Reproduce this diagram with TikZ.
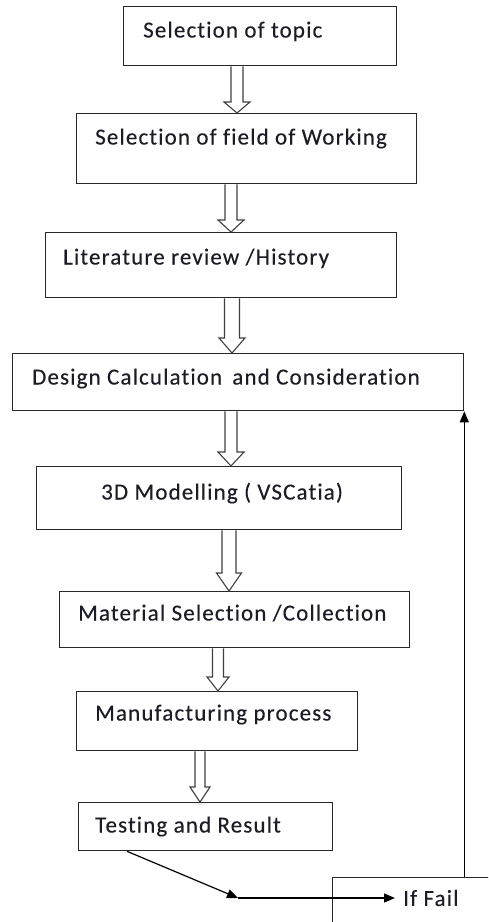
\documentclass[tikz,border=0pt]{standalone}
\usepackage{fontspec}
\setmainfont{Carlito}[LetterSpace=5, Ligatures=CommonOff, FakeBold=0.2]
\usetikzlibrary{calc,arrows.meta}

\definecolor{inkline}{RGB}{40,40,40}
\definecolor{inktext}{RGB}{28,28,38}

\tikzset{
  stagebox/.style={draw=inkline, line width=1.3pt, rectangle, inner sep=0pt,
    anchor=north west, fill=white},
  stagetext/.style={anchor=base west, inner sep=0pt, text=inktext,
    font=\fontsize{23}{27}\selectfont},
  hollow/.style={draw=black!75, line width=1.1pt, line join=miter},
  conn/.style={draw=black, line width=1.2pt},
  tip/.style={-{Triangle[length=11pt,width=9pt]}}
}

% hollow block arrow: centre x, upper node, lower node, half shaft, half head, head length
\newcommand\hollowarrow[6]{%
  \draw[hollow] let \p1=(#1,0 |- #2.south), \p2=(#1,0 |- #3.north) in
    (\x1-#4pt,\y1) -- (\x1-#4pt,\y2+#6pt) -- (\x1-#5pt,\y2+#6pt) -- (\x1,\y2)
    -- (\x1+#5pt,\y2+#6pt) -- (\x1+#4pt,\y2+#6pt) -- (\x1+#4pt,\y1);}

\begin{document}
\begin{tikzpicture}[x=1pt,y=-1pt]
  \useasboundingbox (0,0) rectangle (488,922);
  \clip (0,0) rectangle (488,922);

  % process stages
  \node[stagebox, minimum width=273pt, minimum height=59pt] (b1) at (123,6) {};
  \node[stagebox, minimum width=340pt, minimum height=70pt] (b2) at (76,113) {};
  \node[stagebox, minimum width=351pt, minimum height=65pt] (b3) at (45,232) {};
  \node[stagebox, minimum width=451pt, minimum height=57pt] (b4) at (12,353) {};
  \node[stagebox, minimum width=365pt, minimum height=63pt] (b5) at (36,466) {};
  \node[stagebox, minimum width=350pt, minimum height=56pt] (b6) at (59,591) {};
  \node[stagebox, minimum width=281pt, minimum height=59pt] (b7) at (76,691) {};
  \node[stagebox, minimum width=254pt, minimum height=48pt] (b8) at (78,802) {};
  \node[stagebox, minimum width=180pt, minimum height=70pt] (b9) at (332,877) {};

  % stage labels
  \node[stagetext] (t1) at (143,37.5) {Selection of topic};
  \node[stagetext] (t2) at (95,144.5) {Selection of field of Working};
  \node[stagetext] (t3) at (63,264.5) {Literature review /History};
  \node[stagetext] (t4) at (32,384.5) {Design Calculation\, and Consideration};
  \node[stagetext] (t5) at (101,499.5) {3D Modelling ( VSCatia)};
  \node[stagetext] (t6) at (78,620.5) {Material Selection /Collection};
  \node[stagetext] (t7) at (95,720.5) {Manufacturing process};
  \node[stagetext] (t8) at (95,832.5) {Testing and Result};
  \node[stagetext, anchor=west, inner xsep=8pt] (fail) at (395,898) {If Fail};

  % block arrows between stages
  \hollowarrow{237}{b1}{b2}{6}{13}{11}
  \hollowarrow{231}{b2}{b3}{6}{13}{12}
  \hollowarrow{232}{b3}{b4}{7.5}{13}{15}
  \hollowarrow{231}{b4}{b5}{6}{13}{14}
  \hollowarrow{229}{b5}{b6}{7}{12.5}{18}
  \hollowarrow{218}{b6}{b7}{5.5}{11}{14}
  \hollowarrow{200}{b7}{b8}{5}{10}{15}

  % result check and feedback loop
  \coordinate (turn) at (238,898);
  \draw[conn, tip] (127,0 |- b8.south) -- (turn);
  \draw[conn, tip] (turn) -- (fail.west);
  \draw[conn, tip] (b9.north -| b4.south east) -- (b4.south east);
\end{tikzpicture}
\end{document}
